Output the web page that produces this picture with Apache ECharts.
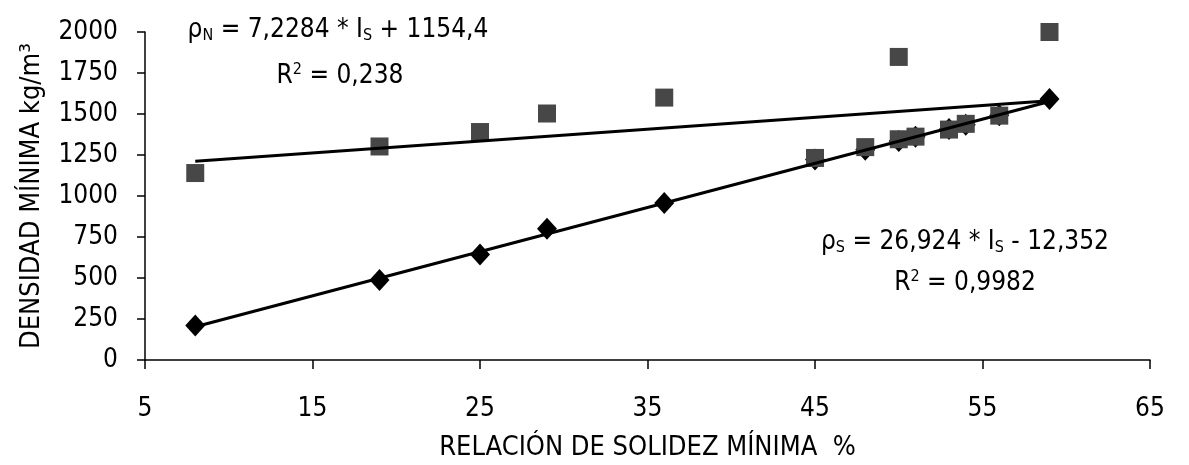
<!DOCTYPE html>
<html><head><meta charset="utf-8">
<script src="https://cdn.jsdelivr.net/npm/echarts@6/dist/echarts.min.js"></script>
<style>html,body{margin:0;padding:0;background:#fff}#c{width:1189px;height:465px}</style>
</head><body><div id="c"></div>
<script>
const xTicks = [5, 15, 25, 35, 45, 55, 65];
const yTicks = [0, 250, 500, 750, 1000, 1250, 1500, 1750, 2000];
// Solidity ratio (%) for the two sample sets
const xS = [8, 19, 25, 29, 36, 45, 48, 50, 51, 53, 54, 56, 59];
const densS = [210, 488, 643, 800, 958, 1222, 1282, 1335, 1362, 1408, 1435, 1492, 1592];
const xN = [8, 19, 25, 29, 36, 45, 48, 50, 50, 51, 53, 54, 56, 59];
const densN = [1140, 1302, 1390, 1503, 1600, 1232, 1298, 1848, 1346, 1362, 1405, 1440, 1490, 2000];
// trend line endpoints
const trendNx = [8, 59];
const trendNy = [1212, 1581];
const trendSx = [8, 59];
const trendSy = [203, 1576];

const FONT = '"Liberation Sans Narrow", "DejaVu Sans Condensed", "Liberation Sans", Arial, sans-serif';
const FS = 26;
const pair = (xs, ys) => xs.map((x, i) => [x, ys[i]]);
const rich = {
  t: { fontFamily: FONT, fontSize: FS, fill: '#000' },
  s: { fontFamily: FONT, fontSize: 16, fill: '#000', padding: [12, 0, 0, 0] },
  p: { fontFamily: FONT, fontSize: 16, fill: '#000', padding: [0, 0, 12, 0] }
};

const chart = echarts.init(document.getElementById('c'));
chart.setOption({
  animation: false,
  backgroundColor: '#fff',
  textStyle: { fontFamily: FONT, color: '#000' },
  grid: { left: 145, right: 39, top: 32, bottom: 105, containLabel: false, outerBoundsMode: 'none' },
  xAxis: {
    type: 'value', min: xTicks[0], max: xTicks[xTicks.length - 1], interval: 10,
    name: 'RELACIÓN DE SOLIDEZ MÍNIMA  %', nameLocation: 'middle', nameGap: 74,
    nameTextStyle: { fontFamily: FONT, fontSize: 27, color: '#000' },
    axisLine: { onZero: false, lineStyle: { color: '#000', width: 1.5 } },
    axisTick: { show: true, length: 9, lineStyle: { color: '#000', width: 1.5 } },
    axisLabel: { margin: 36, fontFamily: FONT, fontSize: FS, color: '#000', formatter: v => String(v) },
    splitLine: { show: false }
  },
  yAxis: {
    type: 'value', min: yTicks[0], max: yTicks[yTicks.length - 1], interval: 250,
    name: 'DENSIDAD MÍNIMA kg/m³', nameLocation: 'middle', nameGap: 100,
    nameTextStyle: { fontFamily: FONT, fontSize: 27, color: '#000' },
    axisLine: { show: true, lineStyle: { color: '#000', width: 1.5 } },
    axisTick: { show: true, length: 8, lineStyle: { color: '#000', width: 1.5 } },
    axisLabel: { margin: 27, fontFamily: FONT, fontSize: FS, color: '#000', formatter: v => String(v) },
    splitLine: { show: false }
  },
  series: [
    { type: 'scatter', name: 'S', data: pair(xS, densS), symbol: 'diamond', symbolSize: [20, 22],
      itemStyle: { color: '#000', opacity: 1 }, z: 1 },
    { type: 'scatter', name: 'N', data: pair(xN, densN), symbol: 'rect', symbolSize: 18,
      itemStyle: { color: '#474747', opacity: 1 }, z: 2 },
    { type: 'line', data: pair(trendNx, trendNy), showSymbol: false, symbol: 'none',
      lineStyle: { color: '#000', width: 3 }, z: 3 },
    { type: 'line', data: pair(trendSx, trendSy), showSymbol: false, symbol: 'none',
      lineStyle: { color: '#000', width: 3 }, z: 3 }
  ],
  graphic: [
    { type: 'text', x: 338, y: 30, style: { align: 'center', verticalAlign: 'middle',
      text: '{t|ρ}{s|N}{t| = 7,2284 * I}{s|S}{t| + 1154,4}', rich } },
    { type: 'text', x: 340, y: 76, style: { align: 'center', verticalAlign: 'middle',
      text: '{t|R}{p|2}{t| = 0,238}', rich } },
    { type: 'text', x: 965, y: 242, style: { align: 'center', verticalAlign: 'middle',
      text: '{t|ρ}{s|S}{t| = 26,924 * I}{s|S}{t| - 12,352}', rich } },
    { type: 'text', x: 965, y: 283, style: { align: 'center', verticalAlign: 'middle',
      text: '{t|R}{p|2}{t| = 0,9982}', rich } }
  ]
});
</script></body></html>
